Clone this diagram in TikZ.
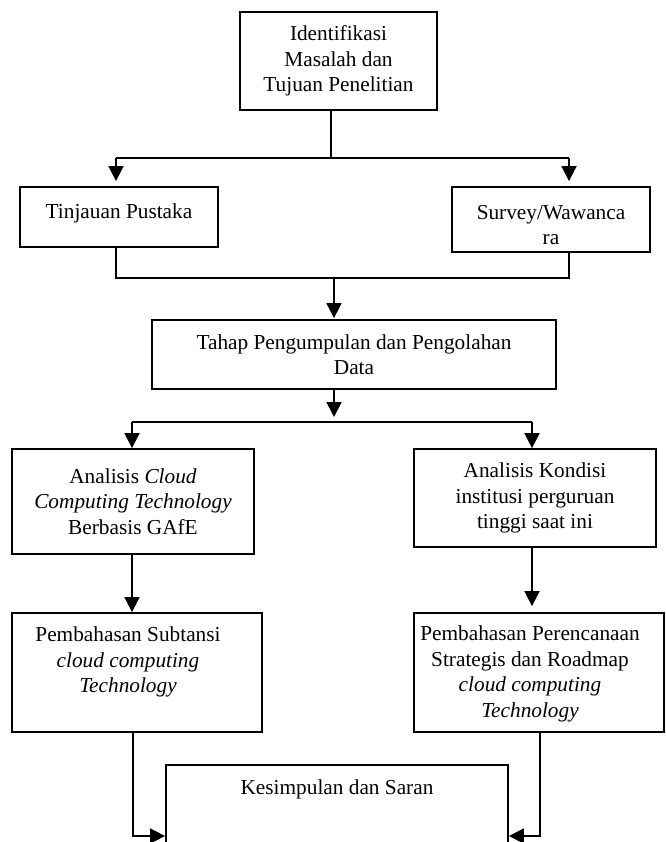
\documentclass[tikz,border=0pt]{standalone}
\usepackage{fontspec}
\setmainfont{Liberation Serif}
\usetikzlibrary{arrows.meta}
\begin{document}
\begin{tikzpicture}[x=1pt,y=-1pt,
  every node/.style={font=\fontsize{21.3}{25.5}\selectfont},
  box/.style={draw, line width=1.8pt, align=center, inner sep=2pt},
  txt/.style={align=center, inner sep=0pt},
  ln/.style={line width=1.8pt},
  arr/.style={ln, -{Triangle[length=15pt,width=15pt]}}]
\path[use as bounding box] (0,0) rectangle (665,842);
\clip (0,0) rectangle (665,842);
\node[box, minimum width=197pt, minimum height=98pt] (top) at (338.5,61) {Identifikasi\\Masalah dan\\Tujuan Penelitian};
\node[box, minimum width=198pt, minimum height=60pt] (tin) at (119,217) {};
\node[txt] (tint) at (119,213) {Tinjauan Pustaka};
\node[box, minimum width=198pt, minimum height=65pt] (sur) at (551,219.5) {};
\node[txt] (surt) at (551,225) {Survey/Wawanca\\ra};
\node[box, minimum width=404pt, minimum height=69pt] (tah) at (354,354.5) {Tahap Pengumpulan dan Pengolahan\\Data};
\node[box, minimum width=242pt, minimum height=105pt] (anl) at (133,501.5) {Analisis \textit{Cloud}\\\textit{Computing Technology}\\Berbasis GAfE};
\node[box, minimum width=242pt, minimum height=98pt] (anr) at (535,498) {Analisis Kondisi\\institusi perguruan\\tinggi saat ini};
\node[box, minimum width=250pt, minimum height=119pt] (pml) at (137,672.5) {};
\node[txt] (pmlt) at (128,662) {Pembahasan Subtansi\\\textit{cloud computing}\\\textit{Technology}};
\node[box, minimum width=250pt, minimum height=119pt] (pmr) at (539,672.5) {};
\node[txt] (pmrt) at (530,674) {Pembahasan Perencanaan\\Strategis dan Roadmap\\\textit{cloud computing}\\\textit{Technology}};
\node[box, anchor=north, minimum width=342pt, minimum height=120pt] (kes) at (337,764) {};
\node (kest) at ([yshift=-25pt]kes.north) {Kesimpulan dan Saran};
% connectors
\coordinate (j1) at (331,158);
\coordinate (aL) at (116,158);
\coordinate (aR) at (569,158);
\draw[ln] (top.south -| j1) -- (j1);
\draw[ln] (aL) -- (aR);
\draw[arr, shorten >=5pt] (aL) -- (tin.north -| aL);
\draw[arr, shorten >=5pt] (aR) -- (sur.north -| aR);
\coordinate (j2) at (334,278);
\draw[ln] (tin.south -| aL) |- (j2) -| (sur.south -| aR);
\draw[arr, shorten >=1pt] (j2) -- (tah.north -| j2);
\coordinate (j3) at (334,422);
\draw[arr, shorten >=5pt] (tah.south -| j3) -- (j3);
\coordinate (bL) at (132,422);
\coordinate (bR) at (532,422);
\draw[ln] (bL) -- (bR);
\draw[arr] (bL) -- (anl.north -| bL);
\draw[arr] (bR) -- (anr.north -| bR);
\draw[arr] (anl.south -| bL) -- (pml.north -| bL);
\draw[arr, shorten >=6pt] (anr.south -| bR) -- (pmr.north -| bR);
\coordinate (cL) at (133,836);
\coordinate (cR) at (540,836);
\draw[arr] (pml.south -| cL) -- (cL) -- (kes.west |- cL);
\draw[arr] (pmr.south -| cR) -- (cR) -- (kes.east |- cR);
\end{tikzpicture}
\end{document}
